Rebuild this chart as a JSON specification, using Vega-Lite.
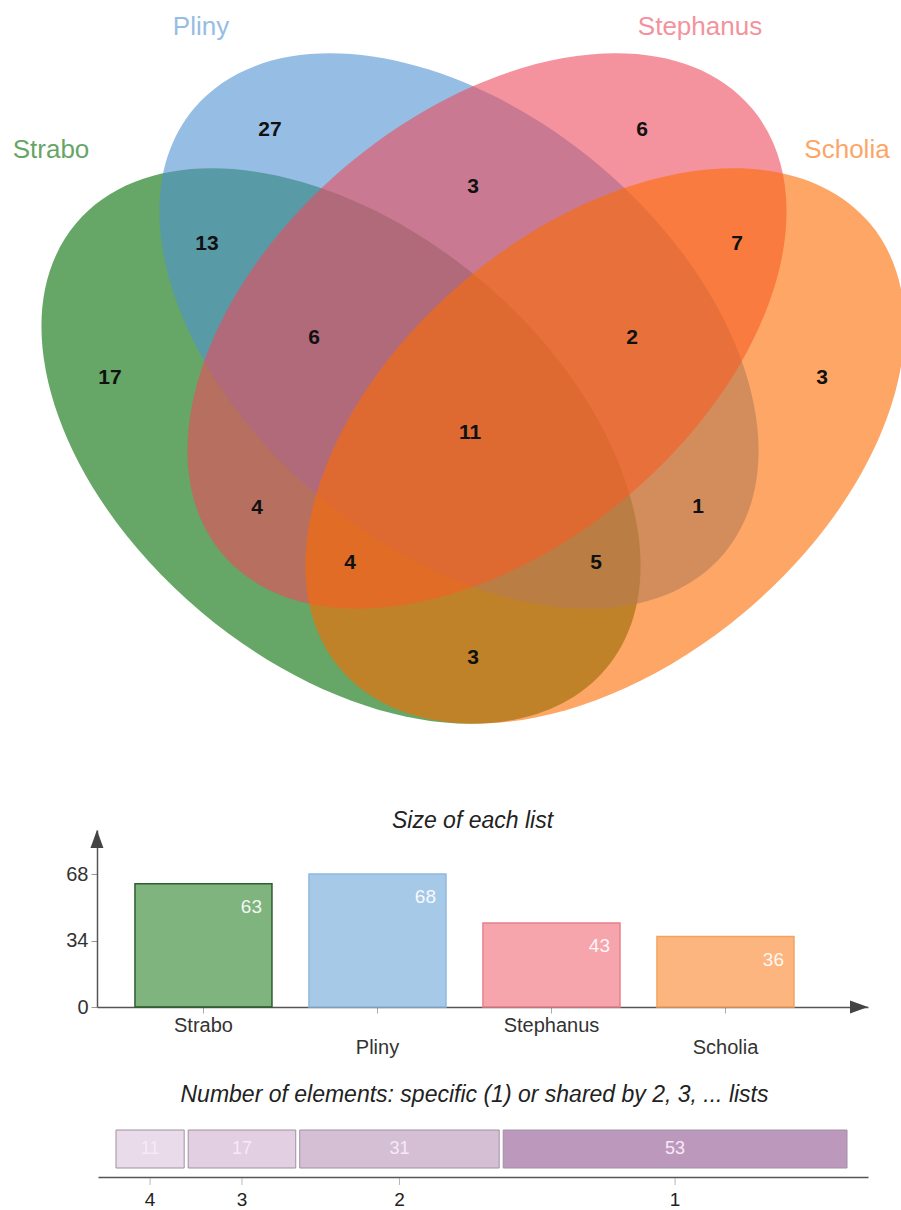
{
  "$schema": "https://vega.github.io/schema/vega-lite/v6.json",
  "padding": 0,
  "background": "white",
  "spacing": 26,
  "resolve": {"scale": {"color": "independent", "fill": "independent", "stroke": "independent"}},
  "config": {"view": {"stroke": null}, "font": "Liberation Sans"},
  "datasets": {
    "sets": [
      {"set": "Strabo", "cx": -132, "cy": -6, "lx": -422, "ly": 290, "total": 63},
      {"set": "Pliny", "cx": -14, "cy": 109, "lx": -272, "ly": 413, "total": 68},
      {"set": "Stephanus", "cx": 14, "cy": 109, "lx": 227, "ly": 413, "total": 43},
      {"set": "Scholia", "cx": 132, "cy": -6, "lx": 374, "ly": 290, "total": 36}
    ],
    "regions": [
      {"combo": "Strabo", "x": -363, "y": 62, "n": 17},
      {"combo": "Pliny", "x": -203, "y": 310, "n": 27},
      {"combo": "Stephanus", "x": 169, "y": 310, "n": 6},
      {"combo": "Scholia", "x": 349, "y": 62, "n": 3},
      {"combo": "Strabo∩Pliny", "x": -266, "y": 196, "n": 13},
      {"combo": "Pliny∩Stephanus", "x": 0, "y": 253, "n": 3},
      {"combo": "Stephanus∩Scholia", "x": 264, "y": 196, "n": 7},
      {"combo": "Strabo∩Scholia", "x": 0, "y": -218, "n": 3},
      {"combo": "Strabo∩Pliny∩Stephanus", "x": -159, "y": 102, "n": 6},
      {"combo": "Pliny∩Stephanus∩Scholia", "x": 159, "y": 102, "n": 2},
      {"combo": "all four", "x": -3, "y": 7, "n": 11},
      {"combo": "Strabo∩Stephanus", "x": -216, "y": -68, "n": 4},
      {"combo": "Pliny∩Scholia", "x": 225, "y": -67, "n": 1},
      {"combo": "Strabo∩Stephanus∩Scholia", "x": -123, "y": -123, "n": 4},
      {"combo": "Strabo∩Pliny∩Scholia", "x": 123, "y": -123, "n": 5}
    ],
    "shared": [
      {"lists": 4, "count": 11},
      {"lists": 3, "count": 17},
      {"lists": 2, "count": 31},
      {"lists": 1, "count": 53}
    ]
  },
  "vconcat": [
    {
      "width": 901,
      "height": 784,
      "layer": [
        {
          "data": {"name": "sets"},
          "mark": {"type": "point", "shape": "M-1,0C-1,-0.3463,-0.5523,-0.627,0,-0.627C0.5523,-0.627,1,-0.3463,1,0C1,0.3463,0.5523,0.627,0,0.627C-0.5523,0.627,-1,0.3463,-1,0Z", "filled": true, "opacity": 0.6, "strokeWidth": 0, "size": 478864, "clip": true},
          "encoding": {
            "x": {"field": "cx", "type": "quantitative", "scale": {"domain": [-473, 428], "nice": false, "zero": false}, "axis": null},
            "y": {"field": "cy", "type": "quantitative", "scale": {"domain": [-344, 440], "nice": false, "zero": false}, "axis": null},
            "color": {"field": "set", "type": "nominal", "scale": {"domain": ["Strabo", "Pliny", "Stephanus", "Scholia"], "range": ["#006a00", "#5093d2", "#ed4b5c", "#fc6b00"]}, "legend": null},
            "angle": {"condition": {"test": "datum.set === 'Strabo' || datum.set === 'Pliny'", "value": 40}, "value": -40}
          }
        },
        {
          "data": {"name": "sets"},
          "mark": {"type": "text", "fontSize": 26, "opacity": 0.6, "align": "center", "baseline": "middle"},
          "encoding": {
            "x": {"field": "lx", "type": "quantitative", "axis": null},
            "y": {"field": "ly", "type": "quantitative", "axis": null},
            "text": {"field": "set"},
            "color": {"field": "set", "type": "nominal", "legend": null}
          }
        },
        {
          "data": {"name": "regions"},
          "mark": {"type": "text", "fontSize": 21, "fontWeight": "bold", "color": "#111", "align": "center", "baseline": "middle"},
          "encoding": {
            "x": {"field": "x", "type": "quantitative", "axis": null},
            "y": {"field": "y", "type": "quantitative", "axis": null},
            "text": {"field": "n", "type": "quantitative"}
          }
        }
      ]
    },
    {
      "width": 901,
      "height": 177,
      "title": {"text": "Size of each list", "fontSize": 23, "fontStyle": "italic", "fontWeight": "normal", "color": "#222", "anchor": "middle", "dx": 22, "offset": -14, "baseline": "middle"},
      "data": {"name": "sets"},
      "layer": [
        {
          "mark": {"type": "bar", "fillOpacity": 0.5, "strokeWidth": 1.5},
          "encoding": {
            "x": {"field": "set", "type": "nominal", "sort": ["Strabo", "Pliny", "Stephanus", "Scholia"], "scale": {"range": [97, 868], "paddingInner": 0.2126, "paddingOuter": 0.3218, "align": 0.339},
              "axis": {"title": null, "labelAngle": 0, "labelFontSize": 20, "labelColor": "#333", "domainColor": "#555", "domainWidth": 1.5, "tickColor": "#aaa", "tickSize": 6, "labelPadding": 2, "labelBaseline": "top", "labelLineHeight": 22, "labelOverlap": false, "labelExpr": "datum.label === 'Pliny' || datum.label === 'Scholia' ? ['', datum.label] : datum.label"}},
            "y": {"field": "total", "type": "quantitative", "scale": {"domain": [0, 90.5], "nice": false},
              "axis": {"values": [0, 34, 68], "offset": -97, "grid": false, "title": null, "domainColor": "#555", "domainWidth": 1.5, "tickColor": "#999", "tickSize": 6, "labelFontSize": 20, "labelColor": "#333", "labelPadding": 3}},
            "fill": {"field": "set", "type": "nominal", "scale": {"domain": ["Strabo", "Pliny", "Stephanus", "Scholia"], "range": ["#006a00", "#5093d2", "#ed4b5c", "#fc6b00"]}, "legend": null},
            "stroke": {"field": "set", "type": "nominal", "scale": {"domain": ["Strabo", "Pliny", "Stephanus", "Scholia"], "range": ["#2d5e2d", "#8fb8e0", "#e8808b", "#f4a35f"]}, "legend": null}
          }
        },
        {
          "mark": {"type": "text", "align": "right", "baseline": "middle", "dx": -10, "dy": 23, "fontSize": 19, "color": "white", "opacity": 0.9},
          "encoding": {
            "x": {"field": "set", "type": "nominal", "sort": ["Strabo", "Pliny", "Stephanus", "Scholia"], "bandPosition": 1},
            "y": {"field": "total", "type": "quantitative"},
            "text": {"field": "total", "type": "quantitative"}
          }
        },
        {
          "data": {"values": [{"arrow": "y"}]},
          "mark": {"type": "point", "shape": "M0,0L-0.36,1L0.36,1Z", "filled": true, "opacity": 1, "size": 1296, "color": "#444", "strokeWidth": 0, "xOffset": -106.5},
          "encoding": {
            "x": {"datum": "Strabo", "type": "nominal"},
            "y": {"datum": 90.5, "type": "quantitative"}
          }
        },
        {
          "data": {"values": [{"arrow": "x"}]},
          "mark": {"type": "point", "shape": "M0,0L-1,-0.36L-1,0.36Z", "filled": true, "opacity": 1, "size": 1296, "color": "#444", "strokeWidth": 0, "xOffset": 142.5},
          "encoding": {
            "x": {"datum": "Scholia", "type": "nominal"},
            "y": {"datum": 0, "type": "quantitative"}
          }
        }
      ]
    },
    {
      "width": 901,
      "height": 38,
      "title": {"text": "Number of elements: specific (1) or shared by 2, 3, ... lists", "fontSize": 23, "fontStyle": "italic", "fontWeight": "normal", "color": "#222", "anchor": "middle", "dx": 24, "offset": 12, "baseline": "middle"},
      "data": {"name": "shared"},
      "transform": [
        {"stack": "count", "groupby": [], "sort": [{"field": "lists", "order": "descending"}], "as": ["start", "end"]}
      ],
      "layer": [
        {
          "mark": {"type": "bar", "xOffset": 2, "x2Offset": -2, "stroke": "#a090a0", "strokeWidth": 1},
          "encoding": {
            "x": {"field": "start", "type": "quantitative", "scale": {"domain": [-2.438, 114.895], "range": [98, 868], "nice": false, "zero": false},
              "axis": {"title": null, "ticks": false, "labels": false, "grid": false, "domainColor": "#555", "domainWidth": 1.5, "offset": 9}},
            "x2": {"field": "end"},
            "y": {"datum": "row", "type": "nominal", "scale": {"paddingInner": 0, "paddingOuter": 0}, "axis": null},
            "fill": {"field": "lists", "type": "ordinal", "scale": {"domain": [4, 3, 2, 1], "range": ["#eadbea", "#e2cfe2", "#d5bfd5", "#bd98bd"]}, "legend": null}
          }
        },
        {
          "transform": [
            {"fold": ["start", "end"], "as": ["edge", "pos"]},
            {"aggregate": [{"op": "mean", "field": "pos", "as": "mid"}, {"op": "max", "field": "count", "as": "count"}], "groupby": ["lists"]}
          ],
          "layer": [
            {
              "mark": {"type": "text", "fontSize": 18, "color": "#f7eaf7", "baseline": "middle", "align": "center"},
              "encoding": {
                "x": {"field": "mid", "type": "quantitative", "axis": {"title": null, "ticks": false, "labels": false, "grid": false, "domainColor": "#555", "domainWidth": 1.5, "offset": 9}},
                "y": {"datum": "row", "type": "nominal", "axis": null},
                "text": {"field": "count", "type": "quantitative"}
              }
            },
            {
              "mark": {"type": "text", "fontSize": 19, "color": "#222", "baseline": "middle", "align": "center", "dy": 51},
              "encoding": {
                "x": {"field": "mid", "type": "quantitative", "axis": {"title": null, "ticks": false, "labels": false, "grid": false, "domainColor": "#555", "domainWidth": 1.5, "offset": 9}},
                "y": {"datum": "row", "type": "nominal", "axis": null},
                "text": {"field": "lists", "type": "quantitative"}
              }
            },
            {
              "mark": {"type": "tick", "orient": "vertical", "size": 7, "thickness": 1, "color": "#999", "yOffset": 32.5},
              "encoding": {
                "x": {"field": "mid", "type": "quantitative", "axis": {"title": null, "ticks": false, "labels": false, "grid": false, "domainColor": "#555", "domainWidth": 1.5, "offset": 9}},
                "y": {"datum": "row", "type": "nominal", "axis": null}
              }
            }
          ]
        }
      ]
    }
  ]
}
